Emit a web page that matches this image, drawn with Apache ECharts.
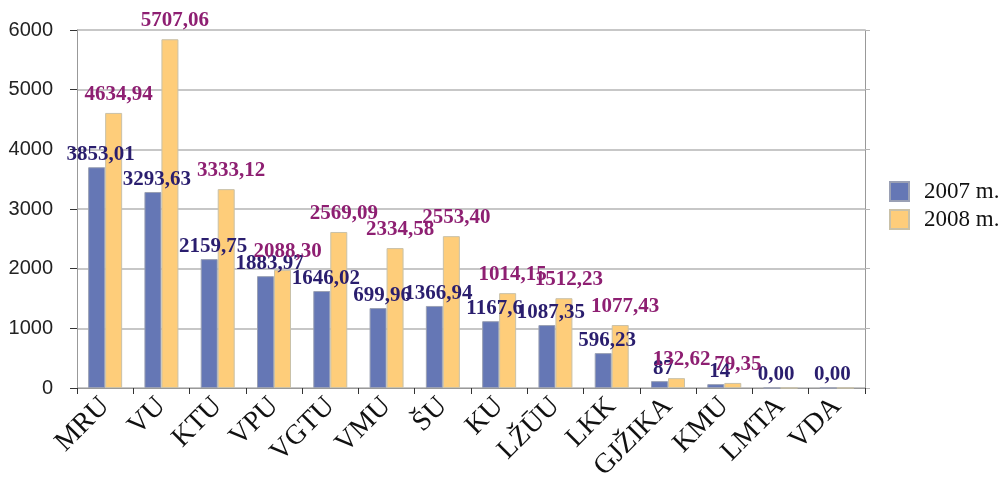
<!DOCTYPE html>
<html>
<head>
<meta charset="utf-8">
<script src="https://cdn.jsdelivr.net/npm/echarts@6/dist/echarts.min.js"></script>
<style>
html, body { margin: 0; padding: 0; background: #fff; }
#chart { width: 1001px; height: 480px; }
</style>
</head>
<body>
<div id="chart"></div>
<script>
// kategorijos (universitetai)
var categories = ['MRU', 'VU', 'KTU', 'VPU', 'VGTU', 'VMU', 'ŠU', 'KU', 'LŽŪU', 'LKK', 'GJŽIKA', 'KMU', 'LMTA', 'VDA'];
// stulpelių aukščiai, nuskaityti nuo paveikslo
var val2007 = [3700, 3285, 2160, 1875, 1625, 1340, 1375, 1120, 1055, 585, 115, 65, 0, 0];
var val2008 = [4610, 5845, 3333, 1980, 2615, 2345, 2545, 1590, 1505, 1055, 165, 85, 0, 0];
// užrašai virš stulpelių
var lbl2007 = ['3853,01', '3293,63', '2159,75', '1883,97', '1646,02', '699,96', '1366,94', '1167,6', '1087,35', '596,23', '87', '14', '0,00', '0,00'];
var lbl2008 = ['4634,94', '5707,06', '3333,12', '2088,30', '2569,09', '2334,58', '2553,40', '1014,15', '1512,23', '1077,43', '132,62', '79,35', '', ''];
var yTicks = [0, 6000, 1000];

var chart = echarts.init(document.getElementById('chart'));

var serif = '"Liberation Serif", "DejaVu Serif", serif';
var sans = '"Liberation Sans", Arial, sans-serif';

var option = {
    animation: false,
    backgroundColor: '#fff',
    grid: {
        left: 77,
        right: 136,
        top: 30,
        bottom: 92,
        outerBoundsMode: 'none'
    },
    legend: {
        orient: 'vertical',
        left: 884,
        top: 175,
        itemWidth: 19,
        itemHeight: 19,
        itemGap: 5,
        icon: 'rect',
        textStyle: {
            fontFamily: serif,
            fontSize: 23,
            color: '#111',
            padding: [0, 0, 0, 10]
        },
        data: ['2007 m.', '2008 m.']
    },
    xAxis: {
        type: 'category',
        data: categories,
        axisLine: { lineStyle: { color: '#999', width: 1 } },
        axisTick: { show: true, length: 6, lineStyle: { color: '#333' } },
        axisLabel: {
            rotate: 45,
            margin: 14,
            fontFamily: serif,
            fontSize: 28,
            color: '#111',
            interval: 0
        }
    },
    yAxis: [{
        type: 'value',
        min: yTicks[0],
        max: yTicks[1],
        interval: yTicks[2],
        axisLine: { show: true, lineStyle: { color: '#999' } },
        axisTick: { show: true, length: 7, lineStyle: { color: '#333' } },
        splitLine: { lineStyle: { color: '#b4b4b4', width: 1.5 } },
        axisLabel: {
            margin: 24,
            fontFamily: sans,
            fontSize: 20,
            color: '#222',
            formatter: function (v) { return String(v); }
        }
    }, {
        type: 'value',
        position: 'right',
        min: yTicks[0],
        max: yTicks[1],
        interval: yTicks[2],
        axisLine: { show: true, lineStyle: { color: '#999' } },
        axisTick: { show: true, length: 5, lineStyle: { color: '#b4b4b4' } },
        splitLine: { show: false },
        axisLabel: { show: false }
    }],
    series: [{
        name: '2007 m.',
        type: 'bar',
        data: val2007,
        barWidth: 17,
        barGap: '0%',
        itemStyle: { color: '#6577b5', borderColor: '#9aa0b4', borderWidth: 1 },
        label: {
            show: true,
            position: 'top',
            distance: 2,
            offset: [4, 0],
            fontFamily: serif,
            fontWeight: 'bold',
            fontSize: 21,
            color: '#2a1e6e',
            formatter: function (p) { return lbl2007[p.dataIndex]; }
        }
    }, {
        name: '2008 m.',
        type: 'bar',
        data: val2008,
        barWidth: 17,
        itemStyle: { color: '#fecd7a', borderColor: '#c9c1a8', borderWidth: 1 },
        label: {
            show: true,
            position: 'top',
            distance: 8,
            offset: [5, 0],
            fontFamily: serif,
            fontWeight: 'bold',
            fontSize: 21,
            color: '#8e1f72',
            formatter: function (p) { return lbl2008[p.dataIndex]; }
        }
    }]
};

chart.setOption(option);
</script>
</body>
</html>
